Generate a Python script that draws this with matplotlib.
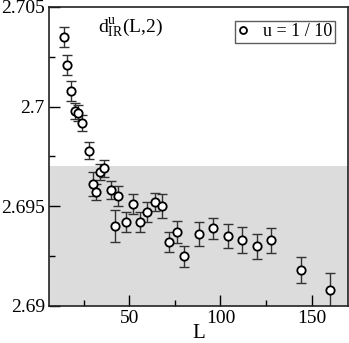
import numpy as np
import matplotlib
matplotlib.use('Agg')
import matplotlib.pyplot as plt
from matplotlib.ticker import MultipleLocator

plt.rcParams['font.family'] = ['Liberation Serif', 'DejaVu Serif']
plt.rcParams['mathtext.fontset'] = 'custom'
plt.rcParams['mathtext.rm'] = 'Liberation Serif'
plt.rcParams['mathtext.it'] = 'Liberation Serif:italic'

# data
L = [14, 16, 18, 20, 22, 24, 28, 30, 32, 34, 36, 40, 42, 44, 48, 52, 56, 60,
     64, 68, 72, 76, 80, 88, 96, 104, 112, 120, 128, 144, 160]
d_ir = [2.7035, 2.7021, 2.7008, 2.6998, 2.6997, 2.6992, 2.6978, 2.6961, 2.6957,
        2.6967, 2.6969, 2.6958, 2.6940, 2.6955, 2.6942, 2.6951, 2.6942, 2.6947,
        2.6952, 2.6950, 2.6932, 2.6937, 2.6925, 2.6936, 2.6939, 2.6935, 2.6933,
        2.6930, 2.6933, 2.6918, 2.6908]
d_err = [0.0005, 0.0005, 0.0005, 0.0004, 0.0004, 0.0004, 0.00045, 0.0006, 0.0004,
         0.0004, 0.00043, 0.00045, 0.0008, 0.0005, 0.0005, 0.0005, 0.0005, 0.0005,
         0.00045, 0.0006, 0.0005, 0.00055, 0.00052, 0.0006, 0.00053, 0.0006, 0.00065,
         0.00062, 0.00063, 0.00065, 0.00083]

band_lo, band_hi = 2.69, 2.697

fig = plt.figure(figsize=(3.49, 3.43), dpi=100)
ax = fig.add_axes([0.1404, 0.1079, 0.857, 0.8717])

ax.axhspan(band_lo, band_hi, color='#dcdcdc', lw=0, zorder=0)

ax.errorbar(L, d_ir, yerr=d_err, fmt='none', ecolor='#333333', elinewidth=1.0,
            capsize=3.5, capthick=1.0, zorder=2)
ax.plot(L, d_ir, 'o', ms=6, mfc='white', mec='black', mew=1.3,
        label='u = 1 / 10', zorder=3)

ax.set_xlim(6, 170)
ax.set_ylim(2.69, 2.705)
ax.xaxis.set_major_locator(MultipleLocator(50))
ax.xaxis.set_minor_locator(MultipleLocator(25))
ax.yaxis.set_minor_locator(MultipleLocator(0.0025))
ax.set_yticks([2.69, 2.695, 2.7, 2.705])
ax.set_yticklabels(['2.69', '2.695', '2.7', '2.705'])
ax.tick_params(which='major', direction='in', length=8, width=1, labelsize=14, pad=3)
ax.tick_params(which='minor', direction='in', length=4.5, width=1)
ax.tick_params(top=False, right=False, which='both')
for s in ax.spines.values():
    s.set_linewidth(1.2)
    s.set_color('#222222')

ax.set_xlabel('L', fontsize=15, labelpad=-2)

ax.text(0.165, 0.915, r'd$^{\mathrm{u}}_{\mathrm{IR}}$(L,2)',
        transform=ax.transAxes, fontsize=14)

leg = ax.legend(loc='upper right', fontsize=13, frameon=True, fancybox=False,
                edgecolor='#333333', handlelength=0.6, handletextpad=0.8,
                borderpad=0.15, borderaxespad=0.75, numpoints=1)
leg.get_frame().set_linewidth(1.0)
for h in leg.legend_handles:
    h.set_markersize(5)

fig.savefig('out.png', dpi=100)
